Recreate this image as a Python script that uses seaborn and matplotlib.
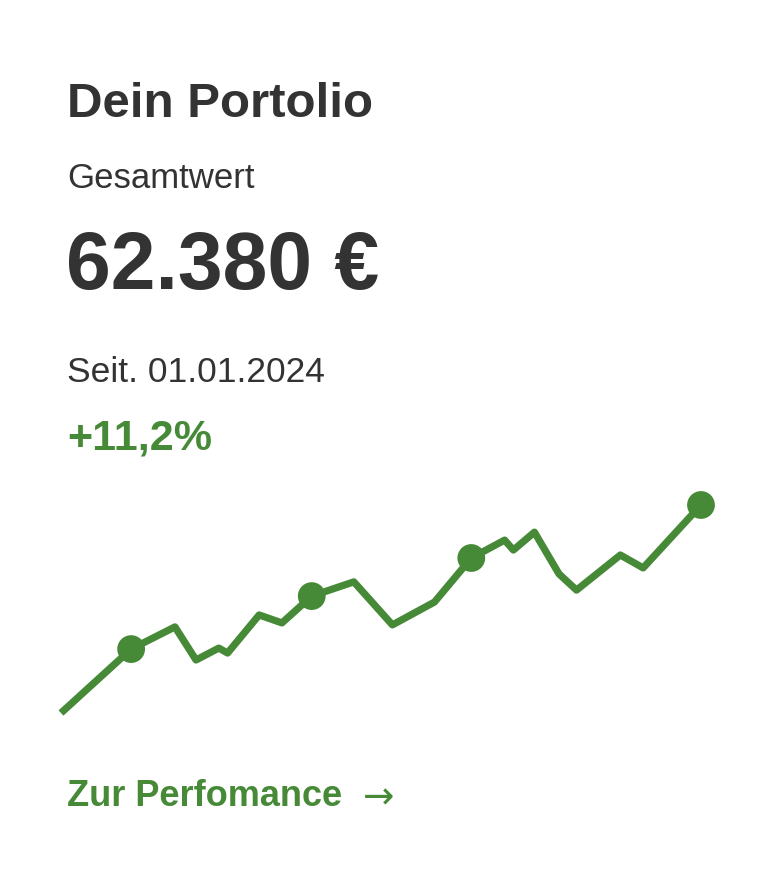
import matplotlib
matplotlib.use("Agg")
import matplotlib.pyplot as plt
import seaborn as sns
import pandas as pd

# portfolio value over the year (day index, value in EUR)
days = [0, 40, 65, 77, 90, 95, 113, 126, 143, 167, 189, 213, 234, 253, 258, 270, 284, 294, 319, 332, 365]
values = [56100, 58030, 58700, 57700, 58060, 57910, 59060, 58820, 59630, 60060, 58760,
          59450, 60780, 61320, 61020, 61560, 60300, 59810, 60870, 60480, 62380]
marker_idx = [1, 8, 12, 20]

title = "Dein Portolio"
label_total = "Gesamtwert"
total = "62.380 €"
since = "Seit. 01.01.2024"
change = "+11,2%"
link = "Zur Perfomance"
arrow = "→"

green = "#468a37"
dark = "#333333"

sns.set_theme(style="white")
plt.rcParams['font.family'] = ['Liberation Sans', 'DejaVu Sans']

df = pd.DataFrame({"day": days, "value": values})
dots = df.iloc[marker_idx]

fig = plt.figure(figsize=(7.82, 8.96), dpi=100)
fig.patch.set_facecolor("white")

W, H = 782, 896
# plot area: x 61..701 px, y 505..713 px
ax = fig.add_axes([61 / W, 1 - 713 / H, 640 / W, 208 / H])
sns.lineplot(data=df, x="day", y="value", ax=ax, color=green, linewidth=5.2,
             solid_joinstyle="round", solid_capstyle="butt")
sns.scatterplot(data=dots, x="day", y="value", ax=ax, color=green, s=400,
                edgecolor="none", zorder=3, clip_on=False)
for line in ax.lines:
    line.set_clip_on(False)
ax.set_xlim(0, 365)
ax.set_ylim(56100, 62380)
ax.set_axis_off()


def put(txt, x, y_base, size, weight="normal", color=dark, family=None):
    kw = {"family": family} if family else {}
    fig.text(x / W, 1 - y_base / H, txt, fontsize=size, fontweight=weight,
             color=color, ha="left", va="baseline", **kw)


put(title, 67, 117, 35.5, "bold")
put(label_total, 67, 188, 25)
put(total, 66, 289, 58, "bold")
put(since, 67, 382, 25.5)
put(change, 67, 449, 31, "bold", green)
put(link, 67, 806, 26, "bold", green)
put(arrow, 363, 808, 27, "normal", green, family="DejaVu Sans")

fig.savefig("out.png", dpi=100, facecolor="white")
